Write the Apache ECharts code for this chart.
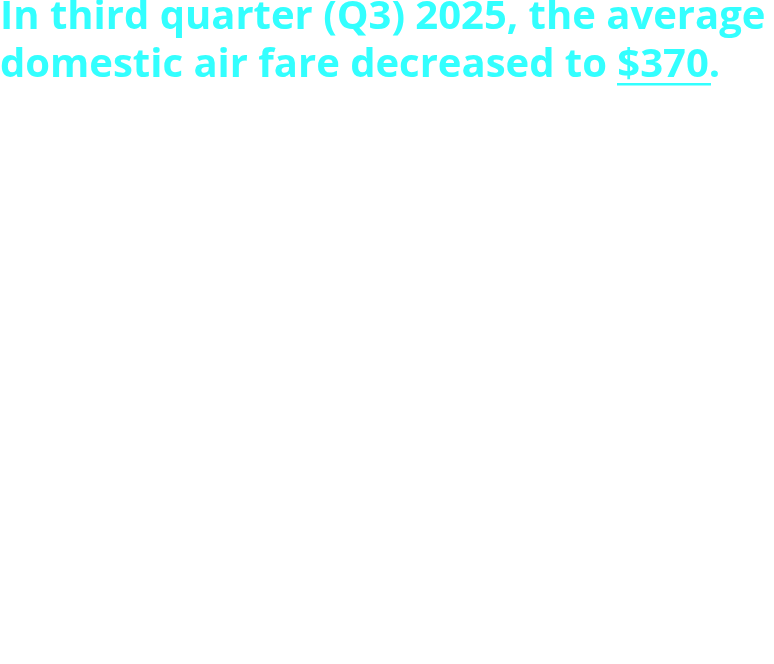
<!DOCTYPE html>
<html><head><meta charset="utf-8">
<script src="https://cdn.jsdelivr.net/npm/echarts@6/dist/echarts.min.js"></script>
<style>html,body{margin:0;padding:0;background:#fff}#c{width:774px;height:664px}</style>
</head><body><div id="c"></div>
<script>
const line1 = 'In third quarter (Q3) 2025, the average';
const line2a = 'domestic air fare decreased to ';
const fareValue = '$370';
const line2b = '.';
const chart = echarts.init(document.getElementById('c'));
chart.setOption({
  backgroundColor: '#fff',
  title: {
    left: 0, top: -6, padding: 0,
    text: line1 + '\n' + line2a + '{u|' + fareValue + '}' + line2b,
    textStyle: {
      fontFamily: 'Open Sans', fontWeight: 'bold', fontSize: 40, color: '#33FFFF', lineHeight: 48,
      rich: { u: { fontFamily: 'Open Sans', fontWeight: 'bold', fontSize: 40, color: '#33FFFF', lineHeight: 48 } }
    }
  },
  graphic: [{ type: 'rect', shape: { x: 617, y: 83, width: 94, height: 2.5 }, style: { fill: '#33FFFF' } }]
});
</script></body></html>
